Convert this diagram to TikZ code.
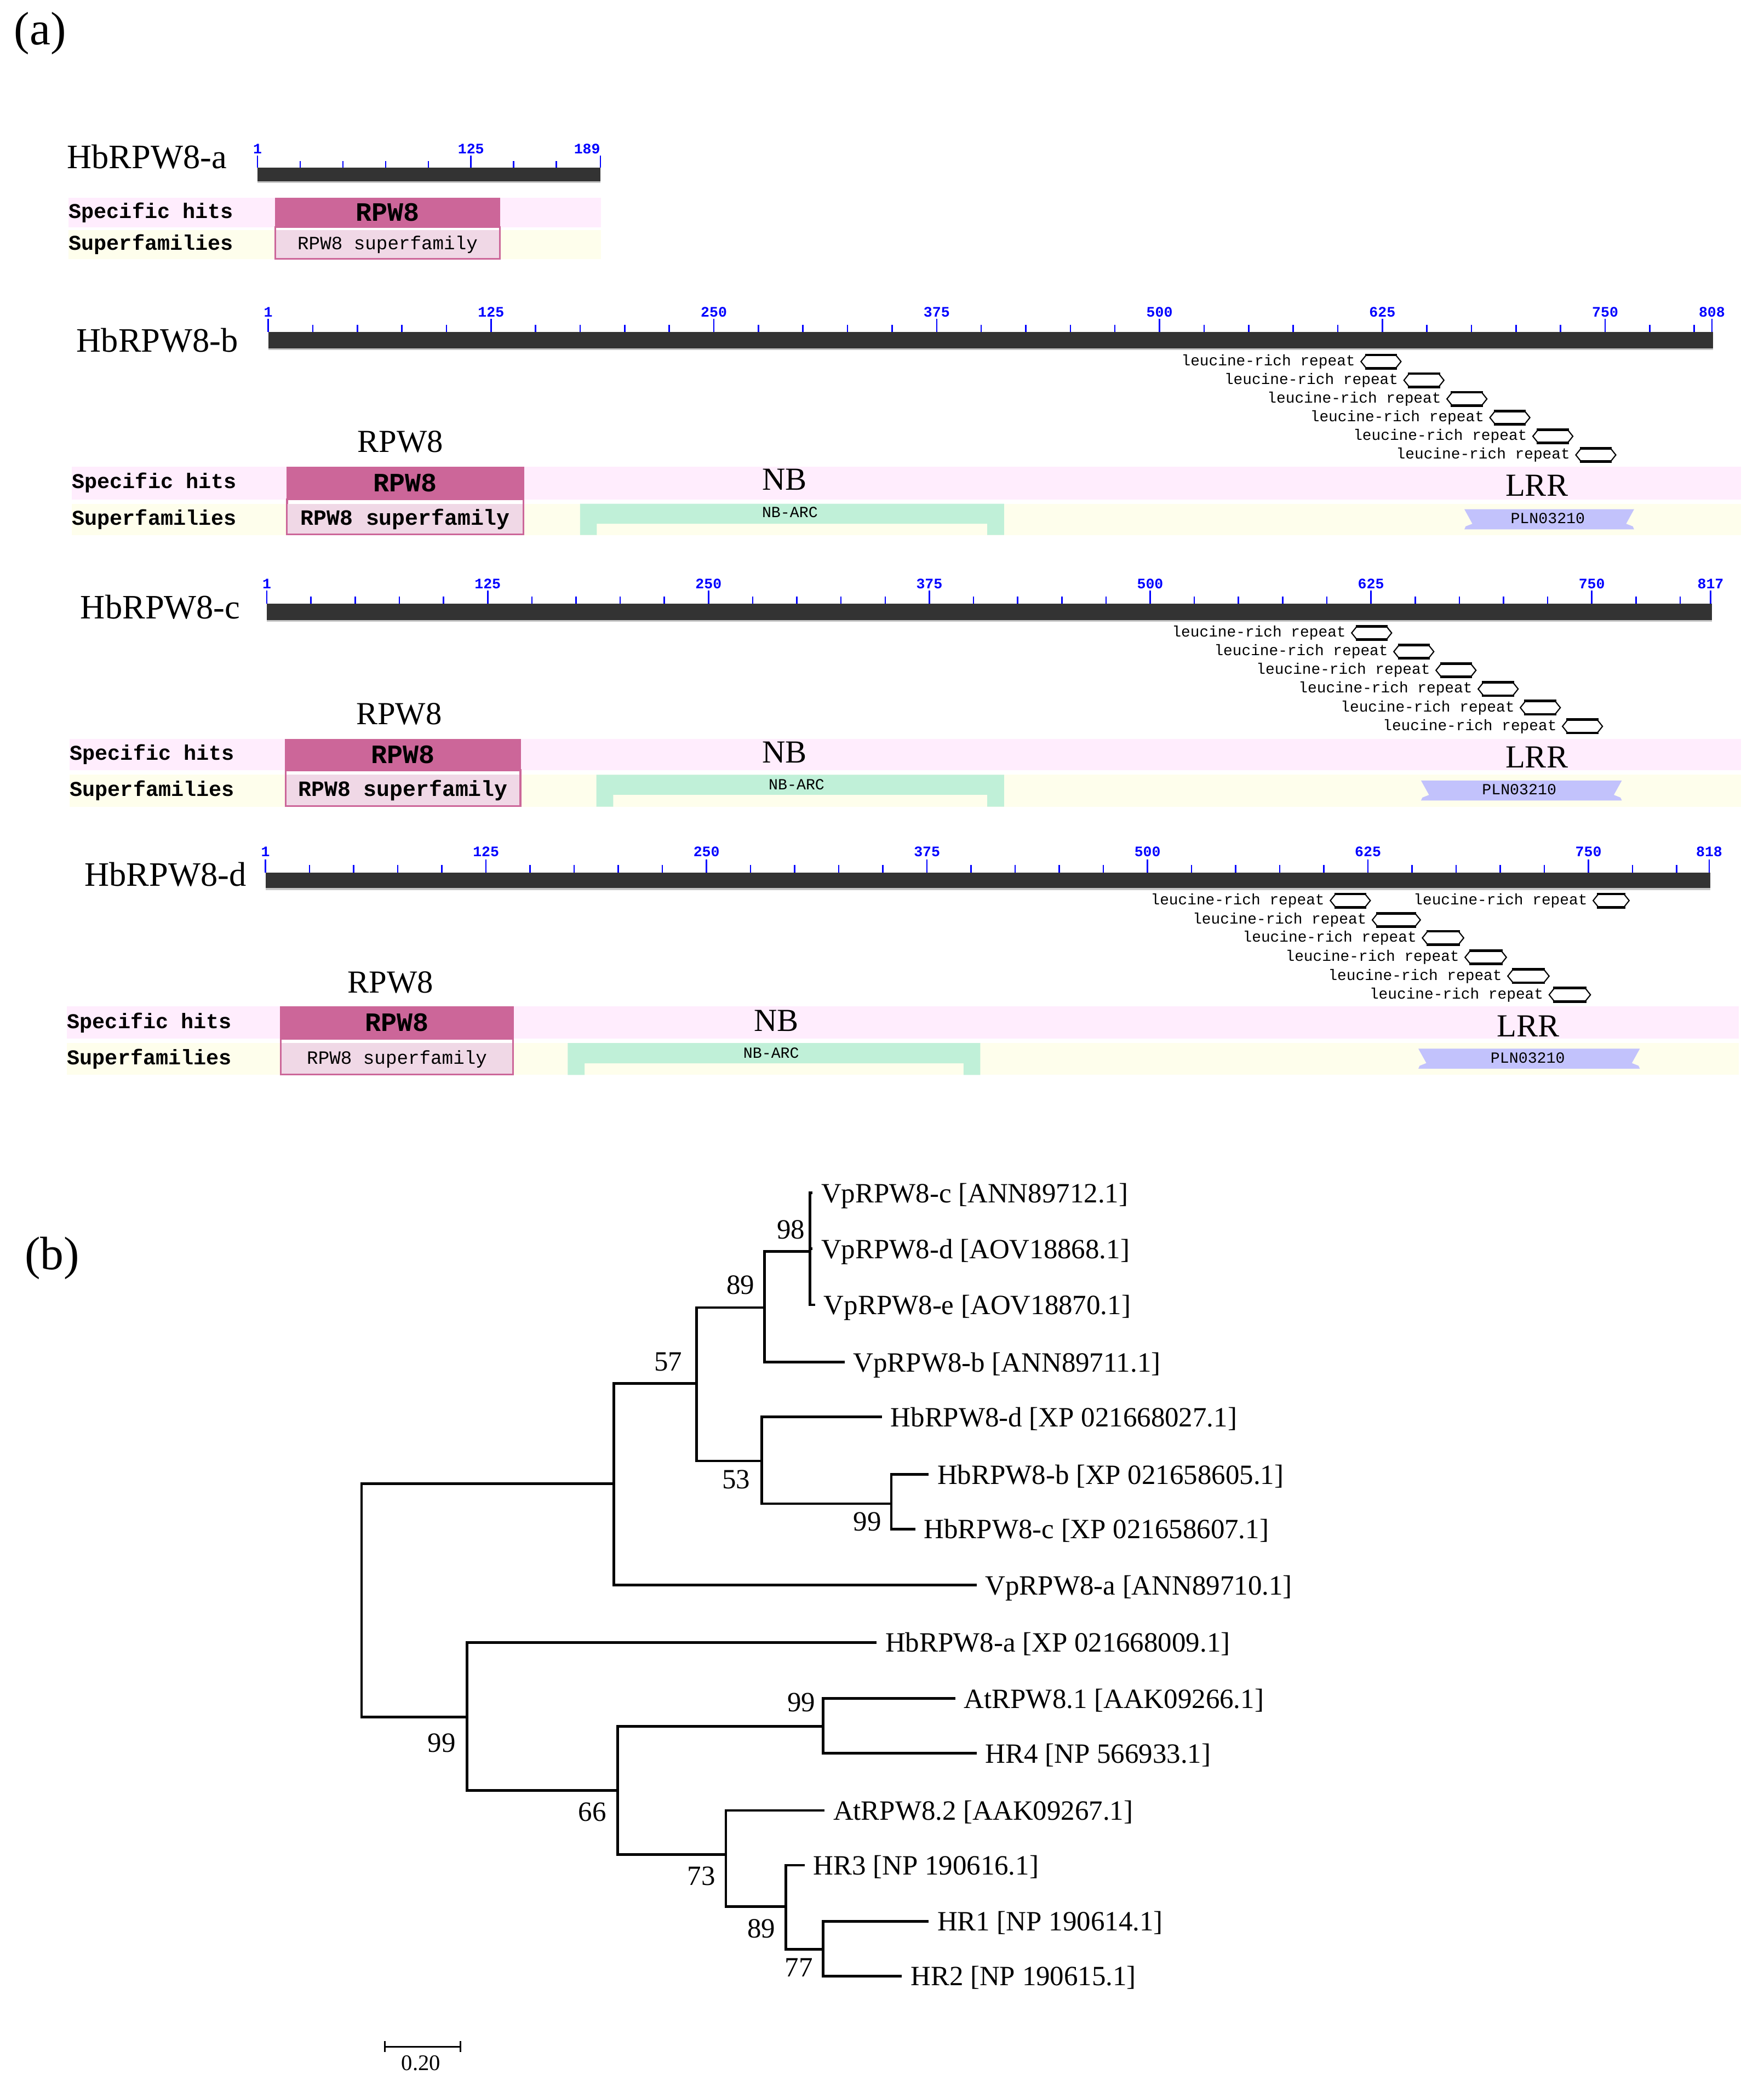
\documentclass[tikz,border=0pt]{standalone}
\usepackage{fontspec}
\setmainfont{Liberation Serif}
\newfontfamily\pixfont{Liberation Mono}
\usepackage{xcolor}
\usepackage{tikz}
\usetikzlibrary{calc}

\definecolor{hitpink}{HTML}{CC6699}
\definecolor{suppink}{HTML}{F0D8E6}
\definecolor{bandpink}{HTML}{FFEDFD}
\definecolor{bandyellow}{HTML}{FEFEEC}
\definecolor{nbgreen}{HTML}{C0F0D8}
\definecolor{plnblue}{HTML}{C2C2FC}
\definecolor{barblack}{HTML}{333333}
\definecolor{tickblue}{HTML}{0000FF}
\newcommand{\fsz}[1]{\fontsize{#1}{#1}\selectfont}

\begin{document}
\begin{tikzpicture}[x=0.02cm,y=-0.02cm,
    panel/.style={inner sep=0pt,font=\fsz{20pt}},
    protname/.style={anchor=west,inner sep=0pt,font=\fsz{14.6pt}},
    rowname/.style={anchor=west,inner sep=0pt,font=\pixfont\bfseries\fsz{9pt}},
    bigname/.style={inner sep=0pt,font=\fsz{13.7pt}},
    ticklab/.style={inner sep=0pt,text=tickblue,font=\pixfont\bfseries\fsz{6.2pt}},
    tick/.style={draw=tickblue,line width=0.6pt},
    protbar/.style={fill=barblack},
    barshade/.style={draw=gray!45,line width=0.8pt},
    hittxt/.style={inner sep=0pt,font=\pixfont\bfseries\fsz{11.3pt}},
    suptxt/.style={inner sep=0pt,font=\pixfont\fsz{8pt}},
    suptxtb/.style={inner sep=0pt,font=\pixfont\bfseries\fsz{9.3pt}},
    supbox/.style={fill=white,draw=hitpink,line width=0.8pt},
    domtxt/.style={inner sep=0pt,font=\pixfont\fsz{6.6pt}},
    lrrtxt/.style={anchor=east,inner sep=0pt,font=\pixfont\fsz{6.5pt}},
    lrrbox/.style={draw=black,line width=0.5pt,fill=white},
    lrredge/.style={line width=1.1pt},
    leaf/.style={anchor=west,inner xsep=3.5pt,inner ysep=0pt,text depth=0pt,font=\fsz{11.9pt}},
    boot/.style={inner sep=0pt,font=\fsz{11.9pt}},
    branch/.style={line width=1.1pt},
  ]
\fill[white] (0,0) rectangle (1322,1568);
\useasboundingbox (0,0) rectangle (1322,1568);

\node[panel] (pa) at (30,25) {(a)};

%% HbRPW8-a
\node[protname] (namea) at (50,117.5) {HbRPW8-a};
\fill[protbar] (193,125.6) rectangle (450,136);
\draw[barshade] (193,136.4) -- (450,136.4);
\foreach \k in {0,...,7} \draw[tick] (193+32*\k,125.6) -- ++(0,-5);
\foreach \x/\lx/\l in {193/193/1,353/353/125,450/440/189} {
  \draw[tick] (\x,125.6) -- ++(0,-9);
  \node[ticklab] (ta\l) at (\lx,111.5) {\l};
}
\fill[bandpink] (51.2,148.4) rectangle (450.6,170.3);
\fill[bandyellow] (51.2,172.4) rectangle (450.6,194.3);
\node[rowname] (speca) at (51.2,159.3) {Specific hits};
\node[rowname] (supa) at (51.2,183.3) {Superfamilies};
\filldraw[supbox] (206.4,170.3) rectangle (374.6,194);
\fill[suppink] (207,172.4) rectangle (374,193.4);
\fill[hitpink] (206,148.4) rectangle (375,170.3);
\node[hittxt] (hita) at (290.5,159.3) {RPW8};
\node[suptxt] (sfa) at (290.5,183.3) {RPW8 superfamily};

%% HbRPW8-b
\node[protname] (nameb) at (57,255) {HbRPW8-b};
\fill[protbar] (201,249) rectangle (1284,261.4);
\draw[barshade] (201,261.8) -- (1284,261.8);
\foreach \k in {0,...,32} \draw[tick] (201+33.4*\k,249) -- ++(0,-5.5);
\foreach \x/\l in {201/1,368/125,535/250,702/375,869/500,1036/625,1203/750,1283/808} {
  \draw[tick] (\x,249) -- ++(0,-10);
  \node[ticklab] (tb\l) at (\x,234) {\l};
}
\foreach \i in {0,...,5} {
  \pgfmathsetmacro\xa{1020+32.2*\i}
  \pgfmathsetmacro\yy{271+14*\i}
  \node[lrrtxt] (lrrb\i) at (\xa-4,\yy) {leucine-rich repeat};
  \draw[lrrbox] (\xa,\yy) -- ++(4,-5) -- ++(22,0) -- ++(4,5) -- ++(-4,5) -- ++(-22,0) -- cycle;
  \draw[lrredge] (\xa+3,\yy-5) -- ++(24,0) (\xa+3,\yy+5) -- ++(24,0);
}
\fill[bandpink] (53.6,350) rectangle (1305,374.3);
\fill[bandyellow] (53.6,377.6) rectangle (1305,401);
\node[rowname] (specb) at (53.6,362) {Specific hits};
\node[rowname] (supb) at (53.6,389.3) {Superfamilies};
\filldraw[supbox] (215.1,374.3) rectangle (392.4,400.6);
\fill[suppink] (215.7,377.6) rectangle (391.8,400);
\fill[hitpink] (214.7,350) rectangle (392.8,374.3);
\node[hittxt] (hitb) at (303.7,362) {RPW8};
\node[suptxtb] (sfb) at (303.7,389.3) {RPW8 superfamily};
\node[bigname] (rpwb) at (300,331) {RPW8};
\node[bigname] (nbb) at (588,359.5) {NB};
\node[bigname] (lrrlabb) at (1151.7,363.7) {LRR};
\fill[nbgreen] (434.7,377.6) -- (752.5,377.6) -- (752.5,401) -- (739.9,401) -- (739.9,392.6)
  -- (447.3,392.6) -- (447.3,401) -- (434.7,401) -- cycle;
\node[domtxt] (arcb) at (592,384) {NB-ARC};
\fill[plnblue] (1097.5,381.7) -- (1224.7,381.7) -- (1218.7,392.6) -- (1223.7,394.5) -- (1224.7,396.8)
  -- (1097.5,396.8) -- (1098.5,394.5) -- (1103.5,392.6) -- cycle;
\node[domtxt] (plnb) at (1160,388.5) {PLN03210};

%% HbRPW8-c
\node[protname] (namec) at (60,455) {HbRPW8-c};
\fill[protbar] (200,452.6) rectangle (1283,465);
\draw[barshade] (200,465.4) -- (1283,465.4);
\foreach \k in {0,...,32} \draw[tick] (200+33.1*\k,452.6) -- ++(0,-5.5);
\foreach \x/\l in {200/1,365.5/125,531/250,696.5/375,862/500,1027.5/625,1193/750,1282/817} {
  \draw[tick] (\x,452.6) -- ++(0,-10);
  \node[ticklab] (tc\l) at (\x,437.6) {\l};
}
\foreach \i in {0,...,5} {
  \pgfmathsetmacro\xa{1013+31.6*\i}
  \pgfmathsetmacro\yy{474.4+14*\i}
  \node[lrrtxt] (lrrc\i) at (\xa-4,\yy) {leucine-rich repeat};
  \draw[lrrbox] (\xa,\yy) -- ++(4,-5) -- ++(22,0) -- ++(4,5) -- ++(-4,5) -- ++(-22,0) -- cycle;
  \draw[lrredge] (\xa+3,\yy-5) -- ++(24,0) (\xa+3,\yy+5) -- ++(24,0);
}
\fill[bandpink] (52,554) rectangle (1305,577.3);
\fill[bandyellow] (52,580.7) rectangle (1305,604.6);
\node[rowname] (specc) at (52,565.6) {Specific hits};
\node[rowname] (supc) at (52,592.6) {Superfamilies};
\filldraw[supbox] (214.1,577.3) rectangle (390,604.2);
\fill[suppink] (214.7,580.7) rectangle (389.4,603.6);
\fill[hitpink] (213.7,554) rectangle (390.4,577.3);
\node[hittxt] (hitc) at (302,565.6) {RPW8};
\node[suptxtb] (sfc) at (302,592.6) {RPW8 superfamily};
\node[bigname] (rpwc) at (299,535) {RPW8};
\node[bigname] (nbc) at (588,564) {NB};
\node[bigname] (lrrlabc) at (1151.7,567.7) {LRR};
\fill[nbgreen] (447,580.7) -- (752.5,580.7) -- (752.5,604.6) -- (739.9,604.6) -- (739.9,595.7)
  -- (459.6,595.7) -- (459.6,604.6) -- (447,604.6) -- cycle;
\node[domtxt] (arcc) at (597,588) {NB-ARC};
\fill[plnblue] (1065,585) -- (1215.5,585) -- (1209.5,595.8) -- (1214.5,597.8) -- (1215.5,600)
  -- (1065,600) -- (1066,597.8) -- (1071,595.8) -- cycle;
\node[domtxt] (plnc) at (1138.6,591.7) {PLN03210};

%% HbRPW8-d
\node[protname] (named) at (63,655.5) {HbRPW8-d};
\fill[protbar] (199,654) rectangle (1282,666);
\draw[barshade] (199,666.4) -- (1282,666.4);
\foreach \k in {0,...,32} \draw[tick] (199+33.05*\k,654) -- ++(0,-5.5);
\foreach \x/\l in {199/1,364.25/125,529.5/250,694.75/375,860/500,1025.25/625,1190.5/750,1281/818} {
  \draw[tick] (\x,654) -- ++(0,-10);
  \node[ticklab] (td\l) at (\x,638.5) {\l};
}
\foreach \xa/\w/\yy [count=\n] in {997/30/675,1194/27/675,1028.5/36/689.5,1066/31/703,1098/31/717.5,1130/31/731.6,1161/31/745.6} {
  \node[lrrtxt] (lrrd\n) at (\xa-4,\yy) {leucine-rich repeat};
  \draw[lrrbox] (\xa,\yy) -- ++(4,-5) -- ++(\w-8,0) -- ++(4,5) -- ++(-4,5) -- ++(8-\w,0) -- cycle;
  \draw[lrredge] (\xa+3,\yy-5) -- ++(\w-6,0) (\xa+3,\yy+5) -- ++(\w-6,0);
}
\fill[bandpink] (50,754.4) rectangle (1303,778.5);
\fill[bandyellow] (50,781.8) rectangle (1303,805.7);
\node[rowname] (specd) at (50,766.5) {Specific hits};
\node[rowname] (supd) at (50,793.8) {Superfamilies};
\filldraw[supbox] (210.4,778.5) rectangle (384.6,805.3);
\fill[suppink] (211,781.8) rectangle (384,804.7);
\fill[hitpink] (210,754.4) rectangle (385,778.5);
\node[hittxt] (hitd) at (297.5,766.5) {RPW8};
\node[suptxt] (sfd) at (297.5,793.8) {RPW8 superfamily};
\node[bigname] (rpwd) at (292.7,736.4) {RPW8};
\node[bigname] (nbd) at (581.8,765) {NB};
\node[bigname] (lrrlabd) at (1145.4,769) {LRR};
\fill[nbgreen] (425.5,781.8) -- (734.7,781.8) -- (734.7,805.7) -- (722.1,805.7) -- (722.1,797)
  -- (438.1,797) -- (438.1,805.7) -- (425.5,805.7) -- cycle;
\node[domtxt] (arcd) at (578,789.4) {NB-ARC};
\fill[plnblue] (1063,786) -- (1229,786) -- (1223,796.8) -- (1228,798.8) -- (1229,801)
  -- (1063,801) -- (1064,798.8) -- (1069,796.8) -- cycle;
\node[domtxt] (plnd) at (1145,792.8) {PLN03210};

%% (b) tree
\node[panel] (pb) at (39,943) {(b)};
\coordinate (root) at (271,1200);
\coordinate (nA) at (460,1112);
\coordinate (n57) at (522,1037);
\coordinate (n89) at (573,980);
\coordinate (n98) at (607,938);
\coordinate (n53) at (571,1095);
\coordinate (n99a) at (668,1127);
\coordinate (nB) at (350,1287);
\coordinate (n66) at (463,1342);
\coordinate (n99c) at (617,1294);
\coordinate (n73) at (544,1390);
\coordinate (n89b) at (589,1429);
\coordinate (n77) at (617,1461);

\node[leaf] (vpc) at (609,894) {VpRPW8-c [ANN89712.1]};
\node[leaf] (vpd) at (609,936) {VpRPW8-d [AOV18868.1]};
\node[leaf] (vpe) at (611,978) {VpRPW8-e [AOV18870.1]};
\node[leaf] (vpb) at (633,1021) {VpRPW8-b [ANN89711.1]};
\node[leaf] (hbd) at (661,1062) {HbRPW8-d [XP 021668027.1]};
\node[leaf] (hbb) at (696,1105) {HbRPW8-b [XP 021658605.1]};
\node[leaf] (hbc) at (686,1146) {HbRPW8-c [XP 021658607.1]};
\node[leaf] (vpa) at (732,1188) {VpRPW8-a [ANN89710.1]};
\node[leaf] (hba) at (657,1231) {HbRPW8-a [XP 021668009.1]};
\node[leaf] (at1) at (716,1273) {AtRPW8.1 [AAK09266.1]};
\node[leaf] (hr4) at (732,1314) {HR4 [NP 566933.1]};
\node[leaf] (at2) at (618,1357) {AtRPW8.2 [AAK09267.1]};
\node[leaf] (hr3) at (603,1398) {HR3 [NP 190616.1]};
\node[leaf] (hr1) at (696,1440) {HR1 [NP 190614.1]};
\node[leaf] (hr2) at (676,1481) {HR2 [NP 190615.1]};

\draw[branch] (root) |- (nA);
\draw[branch] (root) |- (nB);
\draw[branch] (nA) |- (n57);
\draw[branch] (nA) |- (vpa.west);
\draw[branch] (n57) |- (n89);
\draw[branch] (n57) |- (n53);
\draw[branch] (n89) |- (n98);
\draw[branch] (n89) |- (vpb.west);
\draw[branch] (n98) |- (vpc.west);
\draw[branch] (n98) |- (vpd.west);
\draw[branch] (n98) |- (vpe.west);
\draw[branch] (n53) |- (hbd.west);
\draw[branch] (n53) |- (n99a);
\draw[branch] (n99a) |- (hbb.west);
\draw[branch] (n99a) |- (hbc.west);
\draw[branch] (nB) |- (hba.west);
\draw[branch] (nB) |- (n66);
\draw[branch] (n66) |- (n99c);
\draw[branch] (n66) |- (n73);
\draw[branch] (n99c) |- (at1.west);
\draw[branch] (n99c) |- (hr4.west);
\draw[branch] (n73) |- (at2.west);
\draw[branch] (n73) |- (n89b);
\draw[branch] (n89b) |- (hr3.west);
\draw[branch] (n89b) |- (n77);
\draw[branch] (n77) |- (hr1.west);
\draw[branch] (n77) |- (hr2.west);

\node[boot] (bs98) at (592.7,921.8) {98};
\node[boot] (bs89) at (555,963) {89};
\node[boot] (bs57) at (500.7,1020.8) {57};
\node[boot] (bs53) at (551.6,1108.8) {53};
\node[boot] (bs99a) at (650,1140.5) {99};
\node[boot] (bs99b) at (331,1306.6) {99};
\node[boot] (bs66) at (444,1358) {66};
\node[boot] (bs99c) at (600.5,1276) {99};
\node[boot] (bs73) at (525.7,1406) {73};
\node[boot] (bs89b) at (570.5,1445.4) {89};
\node[boot] (bs77) at (598.7,1474.7) {77};

% scale bar
\coordinate (sb1) at (288.5,1534);
\coordinate (sb2) at (345,1534);
\draw[line width=0.8pt] (sb1) -- (sb2);
\draw[line width=0.8pt] ($(sb1)+(0,-4)$) -- ($(sb1)+(0,4)$) ($(sb2)+(0,-4)$) -- ($(sb2)+(0,4)$);
\node[inner sep=0pt,font=\fsz{9.5pt}] (sblab) at (315.5,1546.5) {0.20};
\end{tikzpicture}
\end{document}
